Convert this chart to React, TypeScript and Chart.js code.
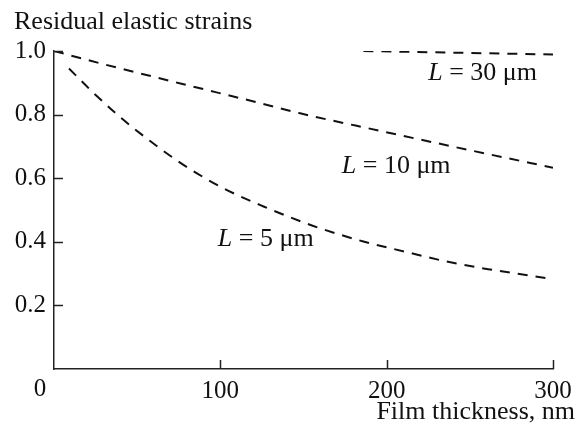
import React, { useEffect, useRef } from "react";
import { Chart, registerables } from "chart.js";

Chart.register(...registerables);

const L5_X = [9, 23, 38, 58, 79, 102, 126, 149, 162, 186, 211, 236, 261, 287, 300];
const L5_Y = [0.945, 0.872, 0.8, 0.716, 0.638, 0.568, 0.511, 0.463, 0.439, 0.401, 0.369, 0.338, 0.314, 0.293, 0.282];
const L10_X = [0, 28, 76, 124, 148, 196, 250, 300];
const L10_Y = [1.0, 0.961, 0.898, 0.836, 0.804, 0.749, 0.688, 0.633];
const L30_X = [186, 300];
const L30_Y = [1.0, 0.989];

const X_TICKS = [0, 100, 200, 300];
const Y_TICKS = [0.2, 0.4, 0.6, 0.8, 1.0];
const CURVE_LABELS = [
  { text: " = 30 μm", x: 225, y: 0.931 },
  { text: " = 10 μm", x: 173, y: 0.638 },
  { text: " = 5 μm", x: 98.5, y: 0.409 },
];
const Y_TITLE = "Residual elastic strains";
const X_TITLE = "Film thickness, nm";

const FONT = "'Liberation Serif', 'Times New Roman', serif";

const pts = (xs: number[], ys: number[]) => xs.map((x, i) => ({ x, y: ys[i] }));

const overlay = {
  id: "overlay",
  afterDraw(chart: any) {
    const ctx = chart.ctx;
    const xs = chart.scales.x;
    const ys = chart.scales.y;
    const left = xs.left;
    const bottom = ys.bottom;
    ctx.save();
    ctx.strokeStyle = "#222";
    ctx.lineWidth = 1.5;
    ctx.beginPath();
    X_TICKS.forEach((v) => {
      if (v === 0) return;
      const px = Math.round(xs.getPixelForValue(v)) + 0.5;
      ctx.moveTo(px, bottom);
      ctx.lineTo(px, bottom - 9);
    });
    Y_TICKS.forEach((v) => {
      const py = Math.round(ys.getPixelForValue(v)) + 0.5;
      ctx.moveTo(left, py);
      ctx.lineTo(left + 9, py);
    });
    ctx.stroke();

    ctx.fillStyle = "#111";
    ctx.font = `25px ${FONT}`;
    ctx.textAlign = "center";
    ctx.textBaseline = "middle";
    ctx.fillText("0", xs.getPixelForValue(0) - 14, bottom + 20);

    ctx.font = `26px ${FONT}`;
    ctx.textAlign = "left";
    ctx.textBaseline = "alphabetic";
    ctx.fillText(Y_TITLE, 14, 29);
    ctx.textAlign = "right";
    ctx.fillText(X_TITLE, 575, 419);

    ctx.textBaseline = "middle";
    ctx.textAlign = "left";
    CURVE_LABELS.forEach((l) => {
      const px = xs.getPixelForValue(l.x);
      const py = ys.getPixelForValue(l.y);
      ctx.font = `italic 26px ${FONT}`;
      ctx.fillText("L", px, py);
      const w = ctx.measureText("L").width;
      ctx.font = `26px ${FONT}`;
      ctx.fillText(l.text, px + w, py);
    });
    ctx.restore();
  },
};

export default function App() {
  const ref = useRef<HTMLCanvasElement>(null);
  useEffect(() => {
    if (!ref.current) return;
    const ds = (data: any) => ({
      data,
      borderColor: "#111",
      borderWidth: 2,
      borderDash: [10, 8],
      pointRadius: 0,
      cubicInterpolationMode: "monotone",
      fill: false,
    });
    const chart = new Chart(ref.current, {
      type: "line",
      data: {
        datasets: [ds(pts(L5_X, L5_Y)), ds(pts(L10_X, L10_Y)), ds(pts(L30_X, L30_Y))],
      },
      options: {
        animation: false,
        responsive: false,
        layout: { padding: { top: 51, right: 26, left: 0, bottom: 0 } },
        plugins: { legend: { display: false }, tooltip: { enabled: false } },
        scales: {
          x: {
            type: "linear",
            min: 0,
            max: 300,
            afterFit: (s: any) => { s.height = 60; },
            grid: { display: false, drawTicks: false },
            border: { display: true, color: "#222", width: 1.5 },
            ticks: {
              stepSize: 100,
              padding: 7,
              color: "#111",
              font: { family: FONT, size: 25 },
              callback: (v: any) => (v === 0 ? "" : String(v)),
            },
          },
          y: {
            type: "linear",
            min: 0,
            max: 1.0,
            afterFit: (s: any) => { s.width = 54; },
            grid: { display: false, drawTicks: false },
            border: { display: true, color: "#222", width: 1.5 },
            ticks: {
              stepSize: 0.2,
              padding: 8,
              color: "#111",
              font: { family: FONT, size: 25 },
              callback: (v: any) => (v === 0 ? "" : Number(v).toFixed(1)),
            },
          },
        },
      },
      plugins: [overlay],
    });
    return () => chart.destroy();
  }, []);
  return (
    <div style={{ position: "absolute", left: 0, top: 0, width: 579, height: 429, background: "#fff" }}>
      <canvas ref={ref} width={579} height={429} />
    </div>
  );
}
